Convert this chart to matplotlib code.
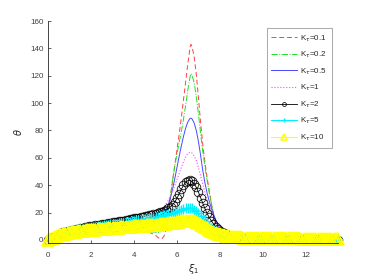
import numpy as np
import matplotlib
matplotlib.use('Agg')
import matplotlib.pyplot as plt

# x grid for plain line series
xl = [0, 0.1, 0.25, 0.5, 0.75, 1.0, 1.5, 2.0, 2.5, 3.0, 3.5, 4.0, 4.5, 4.75,
      5.0, 5.1, 5.2, 5.3, 5.4, 5.5, 5.6, 5.7, 5.8, 5.9, 6.0, 6.1, 6.2, 6.3, 6.4,
      6.5, 6.6, 6.65, 6.7, 6.8, 6.9, 7.0, 7.1, 7.2, 7.3, 7.4, 7.5, 7.6, 7.7, 7.8,
      7.9, 8.0, 8.2, 8.4, 8.6, 8.8, 9.0, 9.5, 10, 11, 12, 13, 13.5]

k01 = [0, 1.2, 2.1, 2.9, 3.3, 3.6, 4.1, 4.5, 4.9, 5.3, 5.7, 6.0, 6.0, 5.3,
       3.5, 2.0, 0.9, 0.8, 3.0, 9, 20, 32, 44, 55, 66, 77, 89, 102, 115,
       128, 139.5, 143, 141.5, 134, 121, 104, 86, 70, 57, 46, 36, 27, 18.5, 11,
       5.5, 2, -1, -1.4, -1.1, -0.7, -0.4, -0.1, 0.05, 0.1, 0.15, 0.15, 0.15]

k02 = [0, 1.2, 2.1, 2.9, 3.3, 3.6, 4.1, 4.5, 4.9, 5.3, 5.7, 6.0, 6.2, 6.1,
       5.7, 5.5, 5.6, 6.5, 9.5, 15, 23, 33, 44, 54, 63, 71, 79, 88, 98,
       109, 118.5, 121.5, 120.5, 115, 105, 92, 78, 65, 54, 44, 35, 27, 19.5, 13,
       7.5, 3.5, -0.3, -1.0, -0.9, -0.6, -0.3, -0.1, 0.05, 0.1, 0.15, 0.15, 0.15]

k05 = [0, 1.2, 2.1, 2.9, 3.4, 3.7, 4.3, 4.8, 5.3, 5.9, 6.6, 7.6, 9.2, 10.5,
       12.5, 13.6, 15.0, 16.8, 19.0, 22, 26, 31, 37.5, 45, 53, 61, 68.5, 75.5, 81.5,
       86, 88.7, 89, 88.5, 85.5, 80, 72, 62, 51, 42, 34.5, 28.5, 23.5, 19, 15,
       11.5, 8.5, 4.5, 2.4, 1.3, 0.7, 0.4, 0.15, 0.1, 0.1, 0.1, 0.1, 0.1]

k1 = [0, 1.3, 2.4, 3.9, 5.0, 5.9, 7.3, 8.5, 9.6, 10.7, 11.9, 13.3, 15.0, 16.1,
      18.0, 19.2, 20.6, 22.2, 24.0, 26.5, 29.0, 32.5, 36.0, 40.0, 44.0, 48.5, 53.0, 57.0, 60.5,
      63.0, 64.0, 64.0, 63.5, 61.5, 58, 53, 47, 41, 35, 29.5, 24.5, 20, 16.2, 13,
      10.4, 8.3, 5.3, 3.4, 2.3, 1.6, 1.1, 0.6, 0.4, 0.3, 0.25, 0.2, 0.2]

# x grid for marker series (0 to 13.5, step 0.1)
xm = np.round(np.arange(0, 136) * 0.1, 1)

k2 = [0, 1.1, 2.1, 3.0, 3.8, 4.5, 5.1, 5.6, 6.1, 6.5,
      6.8, 7.2, 7.6, 7.9, 8.3, 8.7, 9.0, 9.3, 9.6, 9.9,
      10.2, 10.5, 10.7, 11.0, 11.3, 11.5, 11.8, 12.0, 12.3, 12.5,
      12.8, 13.1, 13.4, 13.6, 13.9, 14.2, 14.5, 14.8, 15.1, 15.4,
      15.8, 16.1, 16.4, 16.8, 17.1, 17.4, 17.8, 18.1, 18.5, 18.9,
      19.3, 19.7, 20.2, 20.7, 21.3, 22.0, 23.0, 24.2, 25.8, 27.8,
      30.5, 33.8, 37.0, 39.8, 42.0, 43.3, 43.5, 42.8, 41.0, 38.5,
      35.0, 31.0, 27.0, 23.0, 19.5, 16.5, 14.0, 11.8, 9.8, 8.2,
      6.9, 5.8, 5.0, 4.3, 3.7, 3.2, 2.8, 2.5, 2.2, 1.9,
      1.7, 1.55, 1.4, 1.3, 1.2, 1.1, 1.0, 0.95, 0.9, 0.85,
      0.8, 0.77, 0.74, 0.71, 0.68, 0.66, 0.64, 0.62, 0.6, 0.58,
      0.56, 0.55, 0.54, 0.52, 0.51, 0.5, 0.49, 0.48, 0.47, 0.46,
      0.45, 0.44, 0.43, 0.42, 0.41, 0.4, 0.39, 0.38, 0.37, 0.36,
      0.35, 0.35, 0.34, 0.34, 0.33, 0.33]

k5 = [0, 1.0, 1.9, 2.7, 3.4, 4.0, 4.5, 5.0, 5.5, 5.9,
      6.3, 6.7, 7.0, 7.4, 7.7, 8.0, 8.3, 8.6, 8.8, 9.1,
      9.3, 9.6, 9.8, 10.0, 10.3, 10.5, 10.7, 10.9, 11.2, 11.4,
      11.6, 11.8, 12.0, 12.3, 12.5, 12.7, 12.9, 13.2, 13.4, 13.7,
      13.9, 14.2, 14.4, 14.7, 15.0, 15.2, 15.5, 15.8, 16.0, 16.3,
      16.6, 16.9, 17.2, 17.6, 17.9, 18.3, 18.7, 19.2, 19.7, 20.3,
      20.9, 21.5, 22.1, 22.7, 23.1, 23.4, 23.4, 23.0, 22.2, 21.0,
      19.5, 17.6, 15.6, 13.6, 11.8, 10.2, 8.8, 7.6, 6.6, 5.7,
      4.9, 4.3, 3.8, 3.3, 2.9, 2.6, 2.35, 2.15, 1.95, 1.8,
      1.65, 1.55, 1.45, 1.35, 1.25, 1.18, 1.12, 1.06, 1.0, 0.95,
      0.9, 0.88, 0.86, 0.84, 0.82, 0.8, 0.78, 0.77, 0.76, 0.74,
      0.72, 0.71, 0.7, 0.69, 0.68, 0.67, 0.66, 0.65, 0.64, 0.63,
      0.62, 0.61, 0.61, 0.6, 0.6, 0.59, 0.58, 0.58, 0.57, 0.57,
      0.56, 0.56, 0.55, 0.55, 0.54, 0.54]

k10 = [0, 0.9, 1.7, 2.3, 2.9, 3.4, 3.8, 4.2, 4.6, 4.9,
       5.2, 5.5, 5.7, 6.0, 6.2, 6.4, 6.6, 6.8, 7.0, 7.1,
       7.3, 7.5, 7.6, 7.8, 7.9, 8.1, 8.2, 8.3, 8.5, 8.6,
       8.7, 8.8, 9.0, 9.1, 9.2, 9.3, 9.5, 9.6, 9.7, 9.8,
       9.9, 10.0, 10.2, 10.3, 10.4, 10.5, 10.6, 10.8, 10.9, 11.0,
       11.1, 11.3, 11.4, 11.6, 11.7, 11.9, 12.1, 12.3, 12.5, 12.7,
       13.0, 13.3, 13.6, 13.8, 14.0, 14.2, 14.2, 14.0, 13.6, 13.0,
       12.2, 11.3, 10.3, 9.4, 8.5, 7.6, 6.8, 6.0, 5.3, 4.7,
       4.2, 3.7, 3.3, 3.0, 2.7, 2.5, 2.3, 2.2, 2.1, 2.0,
       1.85, 1.8, 1.72, 1.65, 1.6, 1.55, 1.5, 1.46, 1.42, 1.38,
       1.35, 1.32, 1.3, 1.28, 1.26, 1.24, 1.22, 1.2, 1.18, 1.16,
       1.15, 1.14, 1.13, 1.12, 1.11, 1.1, 1.09, 1.08, 1.07, 1.06,
       1.06, 1.05, 1.05, 1.04, 1.04, 1.03, 1.03, 1.02, 1.02, 1.01,
       1.01, 1.0, 1.0, 1.0, 1.0, 1.0]

labels = ['K$_\\tau$=0.1', 'K$_\\tau$=0.2', 'K$_\\tau$=0.5', 'K$_\\tau$=1',
          'K$_\\tau$=2', 'K$_\\tau$=5', 'K$_\\tau$=10']
xticks = [0, 2, 4, 6, 8, 10, 12]
yticks = [0, 20, 40, 60, 80, 100, 120, 140, 160]

plt.rcParams['font.family'] = ['Liberation Sans', 'DejaVu Sans']
plt.rcParams['mathtext.fontset'] = 'dejavusans'

fig = plt.figure(figsize=(3.74, 2.80), dpi=100)
ax = fig.add_axes([0.1291, 0.1332, 0.7754, 0.7918])

ax.plot(xl, k01, linestyle=(0, (5, 3)), color='#ff4040', lw=0.7, label=labels[0])
ax.plot(xl, k02, linestyle='-.', color='#22dd22', lw=0.7, label=labels[1])
ax.plot(xl, k05, linestyle='-', color='#4848ff', lw=0.7, label=labels[2])
ax.plot(xl, k1, linestyle=':', color='#ff44ff', lw=0.8, label=labels[3])
ax.plot(xm, k2, '-o', color='black', lw=0.6, ms=6.2, mfc='none', mew=0.55,
        clip_on=False, label=labels[4])
ax.plot(xm, k5, '-+', color='#00f0ff', lw=0.8, ms=7.0, mew=1.0,
        clip_on=False, label=labels[5])
ax.plot(xm, k10, '-^', color='#ffff00', lw=0.8, ms=8.3, mfc='none', mew=1.2,
        clip_on=False, label=labels[6])

ax.set_xlim(0, 13.52)
ax.set_ylim(-2, 160)
ax.set_xticks(xticks)
ax.set_yticks(yticks)
for s in ['top', 'right']:
    ax.spines[s].set_visible(False)
for s in ['left', 'bottom']:
    ax.spines[s].set_color('#262626')
    ax.spines[s].set_linewidth(0.6)
ax.tick_params(direction='in', length=2.4, width=0.5, labelsize=5.8,
               colors='#262626', labelcolor='#404040')
ax.tick_params(axis='x', pad=6.5)
ax.tick_params(axis='y', pad=3.5)

ax.set_xlabel('$\\xi_1$', fontsize=7, color='#262626', labelpad=2.5)
ax.set_ylabel('$\\theta$', fontsize=7, color='#262626', labelpad=4)

leg = ax.legend(loc='upper right', bbox_to_anchor=(331.7 / 374, 1 - 28.4 / 280),
                bbox_transform=fig.transFigure, fontsize=5.8, frameon=True,
                fancybox=False, edgecolor='#808080', handlelength=3.2,
                handletextpad=0.4, labelspacing=0.75, borderpad=0.6,
                markerscale=0.45, borderaxespad=0)
leg.get_frame().set_linewidth(0.6)
for t in leg.get_texts():
    t.set_color('#262626')

fig.savefig('out.png', dpi=100)
